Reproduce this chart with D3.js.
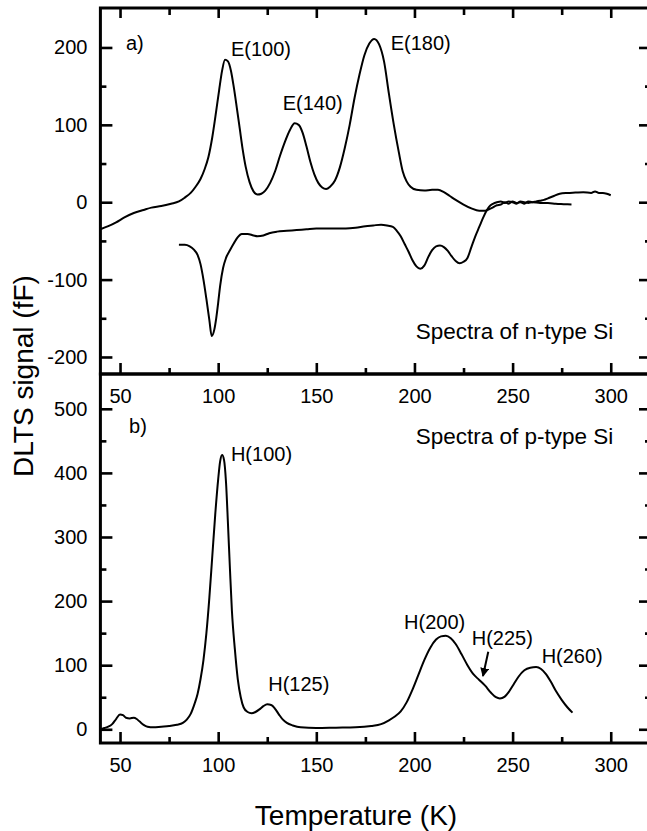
<!DOCTYPE html>
<html>
<head>
<meta charset="utf-8">
<script src="https://cdn.jsdelivr.net/npm/d3@7"></script>
<style>
  body { margin: 0; background: #fff; }
  text { font-family: "Liberation Sans", Arial, Helvetica, sans-serif; fill: #000; }
</style>
</head>
<body>
<svg id="chart" width="647" height="831"></svg>
<script>
// ---- data: [temperature (K), DLTS signal (fF)] ----
// n-type Si, upper spectrum (positive peaks)
var nTypeUpper = [
  [40,-35],[44,-31],[48,-26],[52,-20],[57,-14],[62,-10],[66,-7],[71,-5],[76,-2],[80,1],
  [83,6],[86,12],[88.5,20],[91,30],[93,42],[95,58],[97,84],[99,118],[100.5,145],[102,170],
  [103.5,184],[105,182],[106.5,170],[108,148],[109.5,122],[111,95],[112.5,68],[114,46],[116,26],[118,14],
  [120,10],[122,11],[124,15],[126.5,25],[129,40],[131.5,60],[134,78],[136.5,93],[139,102],[141,100],
  [143,90],[145,72],[147,52],[149,36],[151,25],[153,19],[155,17],[157,20],[159.5,28],[162,45],
  [164.5,70],[167,100],[169.5,135],[172,165],[174.5,190],[177,205],[179.5,211],[182,204],[184.5,182],[187,140],
  [189.5,100],[192,65],[194,40],[196,27],[198,20],[201,16],[205,15],[209,16],[212,16],[215,13],
  [218,8],[221,3],[225,-3],[229,-8],[233,-11],[236,-11],[239,-8],[242,-4],[244,-3],[246,0],
  [248,-2],[250,1],[252,-1],[254,0],[256,-2],[258,1],[260,0],[262,1],[264,2],[266,3],
  [268,5],[271,8],[274,11],[278,12],[282,12.5],[286,13],[290,12],[292,14],[294,12],[296,12],
  [298,11],[300,9]
];
// n-type Si, lower spectrum (negative peaks)
var nTypeLower = [
  [80,-55],[83,-55],[85.5,-57],[87.5,-61],[89.5,-68],[91,-80],[92.5,-100],[94,-125],[95.5,-152],[96.7,-173],
  [98,-165],[99,-150],[100,-130],[101,-108],[102.5,-85],[104,-72],[106,-62],[108,-53],[110,-45],[112,-41],
  [115,-41],[118,-43],[120,-44],[123,-43],[126,-40],[130,-38],[135,-37],[140,-36],[145,-35],[150,-34],
  [155,-34],[160,-34],[165,-34],[170,-33],[175,-31],[179,-30],[183,-29],[186,-30],[189,-32],[191,-37],
  [193,-44],[195,-54],[197,-64],[199,-75],[201,-83],[203,-86],[205,-82],[207,-71],[209,-62],[211,-57],
  [213,-56],[215,-58],[217,-63],[219,-70],[221,-76],[223,-79],[225,-77],[227,-72],[229,-58],[231,-44],
  [233,-32],[235,-20],[236.5,-12],[238,-6],[240,-2],[242,0],[244,1],[246,-1],[248,1],[250,0],
  [252,-2],[254,1],[256,0],[258,-1],[260,0],[264,-1],[268,-1],[272,-2],[276,-2.5],[280,-3]
];
// p-type Si spectrum
var pType = [
  [40,0],[42,2],[44,4],[46,8],[48,16],[50,23],[51.5,22],[53,18],[55,17],[57,18],
  [58.5,16],[60,12],[62,7],[64,4],[67,3],[71,4],[75,5],[79,7],[82,10],[84,15],
  [86,24],[88,40],[89.5,55],[91,78],[92.5,108],[94,150],[95.5,205],[97,270],[98.5,335],[100,390],
  [101,418],[102,428],[103,420],[104,385],[105,320],[106,250],[107,185],[108.5,125],[110,78],[111.5,50],
  [113,34],[115,27],[117,25],[119,27],[121,31],[123,36],[125,39],[127,38],[129,32],[131,23],
  [133,15],[135,10],[138,6],[142,3],[150,2],[160,2.5],[170,3],[178,5],[183,8],[187,14],
  [190,20],[193,28],[196,42],[199,62],[202,85],[205,108],[208,127],[211,140],[213.5,145],[216,146],
  [218.5,142],[221,133],[224,117],[227,100],[230,86],[233,77],[236,68],[239,57],[241.5,50],[243.5,48],
  [246,51],[248,58],[250.5,70],[253,82],[256,92],[259,96],[262,97],[264.5,94],[267,86],[269.5,74],
  [272,60],[275,46],[278,34],[280.5,26]
];

// ticks
var xMajor = [50, 100, 150, 200, 250, 300];
var xMinor = [75, 125, 175, 225, 275];
var yTopMajor = [-200, -100, 0, 100, 200];
var yTopMinor = [-150, -50, 50, 150];
var yBotMajor = [0, 100, 200, 300, 400, 500];
var yBotMinor = [50, 150, 250, 350, 450];

// annotations: [text, T, signal]
var topLabels = [
  ["a)", 53, 197], ["E(100)", 106.5, 189], ["E(140)", 132.9, 119.5], ["E(180)", 187.9, 197]
];
var botLabels = [
  ["b)", 54.6, 462], ["H(100)", 106.5, 418.6], ["H(125)", 125.5, 59.8],
  ["H(200)", 194.7, 156.5], ["H(225)", 229.2, 131.5], ["H(260)", 264.8, 103.4]
];
var topNote = ["Spectra of n-type Si", 200.6, -177];
var botNote = ["Spectra of p-type Si", 200.6, 445];
var arrowH225 = [[237.6, 121], [234.9, 83]];

var svg = d3.select('#chart');

var xScale = d3.scaleLinear().domain([40, 320]).range([100.4, 650]);
var yTop = d3.scaleLinear().domain([-222, 251]).range([374, 8]);
var yBot = d3.scaleLinear().domain([-21.4, 554.3]).range([743, 374]);

// plain hyphen for negatives, like the original figure
var plainFmt = function (d) { return String(d); };

svg.append("defs").append("marker")
  .attr("id", "arrowhead")
  .attr("viewBox", "0 0 10 10")
  .attr("refX", 9).attr("refY", 5)
  .attr("markerWidth", 4.5).attr("markerHeight", 4.5)
  .attr("orient", "auto")
  .append("path")
  .attr("d", "M0,0 L10,5 L0,10 z")
  .attr("fill", "#000");

function styleAxis(g) {
  g.select(".domain").remove();
  g.selectAll(".tick line").attr("stroke", "#000").attr("stroke-width", 2.6);
  g.selectAll(".tick text").style("font-size", "20px").attr("fill", "#000");
}

// draw one panel's axes: frame + inward ticks
function drawAxes(yScale, yMajor, yMinor, withTop) {
  var x0 = xScale.range()[0], x1 = xScale.range()[1];
  var yb = yScale.range()[0], yt = yScale.range()[1];

  svg.append("g").attr("transform", "translate(" + x0 + ",0)")
    .call(d3.axisLeft(yScale).tickValues(yMajor).tickSize(-12).tickPadding(13).tickFormat(plainFmt))
    .call(styleAxis);
  svg.append("g").attr("transform", "translate(" + x0 + ",0)")
    .call(d3.axisLeft(yScale).tickValues(yMinor).tickSize(-6).tickFormat(""))
    .call(styleAxis);
  svg.append("g").attr("transform", "translate(" + x1 + ",0)")
    .call(d3.axisRight(yScale).tickValues(yMajor).tickSize(-11).tickFormat(""))
    .call(styleAxis);
  svg.append("g").attr("transform", "translate(" + x1 + ",0)")
    .call(d3.axisRight(yScale).tickValues(yMinor).tickSize(-5).tickFormat(""))
    .call(styleAxis);

  svg.append("g").attr("transform", "translate(0," + yb + ")")
    .call(d3.axisBottom(xScale).tickValues(xMajor).tickSize(-11).tickPadding(15).tickFormat(plainFmt))
    .call(styleAxis);
  svg.append("g").attr("transform", "translate(0," + yb + ")")
    .call(d3.axisBottom(xScale).tickValues(xMinor).tickSize(-6).tickFormat(""))
    .call(styleAxis);

  if (withTop) {
    svg.append("g").attr("transform", "translate(0," + yt + ")")
      .call(d3.axisTop(xScale).tickValues(xMajor).tickSize(-10).tickFormat(""))
      .call(styleAxis);
    svg.append("g").attr("transform", "translate(0," + yt + ")")
      .call(d3.axisTop(xScale).tickValues(xMinor).tickSize(-7).tickFormat(""))
      .call(styleAxis);
  }

  svg.append("rect")
    .attr("x", x0).attr("y", yt)
    .attr("width", x1 - x0).attr("height", yb - yt)
    .attr("fill", "none").attr("stroke", "#000").attr("stroke-width", 3);
}

function drawLine(data, yScale) {
  var line = d3.line()
    .curve(d3.curveMonotoneX)
    .x(function (d) { return xScale(d[0]); })
    .y(function (d) { return yScale(d[1]); });
  svg.append("path")
    .datum(data)
    .attr("d", line)
    .attr("fill", "none")
    .attr("stroke", "#000")
    .attr("stroke-width", 2)
    .attr("stroke-linejoin", "round");
}

function drawLabels(labels, yScale, size) {
  svg.append("g").selectAll("text")
    .data(labels)
    .join("text")
    .attr("x", function (d) { return xScale(d[1]); })
    .attr("y", function (d) { return yScale(d[2]); })
    .style("font-size", size + "px")
    .text(function (d) { return d[0]; });
}

// curves
drawLine(nTypeUpper, yTop);
drawLine(nTypeLower, yTop);
drawLine(pType, yBot);

// axes and frames
drawAxes(yTop, yTopMajor, yTopMinor, true);
drawAxes(yBot, yBotMajor, yBotMinor, false);

// annotations
drawLabels(topLabels, yTop, 20);
drawLabels(botLabels, yBot, 20);
drawLabels([topNote], yTop, 22.5);
drawLabels([botNote], yBot, 22.5);

svg.append("line")
  .attr("x1", xScale(arrowH225[0][0])).attr("y1", yBot(arrowH225[0][1]))
  .attr("x2", xScale(arrowH225[1][0])).attr("y2", yBot(arrowH225[1][1]))
  .attr("stroke", "#000").attr("stroke-width", 2)
  .attr("marker-end", "url(#arrowhead)");

// axis titles
svg.append("text")
  .attr("x", 356).attr("y", 825)
  .attr("text-anchor", "middle")
  .style("font-size", "28px")
  .text("Temperature (K)");

svg.append("text")
  .attr("transform", "translate(33,376) rotate(-90)")
  .attr("text-anchor", "middle")
  .style("font-size", "28px")
  .text("DLTS signal (fF)");
</script>
</body>
</html>
